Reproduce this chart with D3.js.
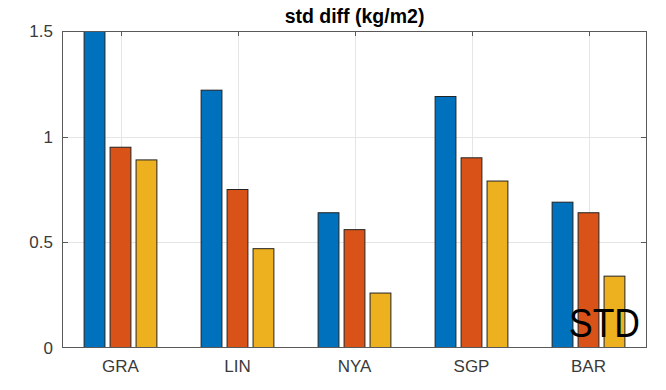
<!DOCTYPE html>
<head>
	<meta charset="utf-8">
	<script src="https://d3js.org/d3.v7.min.js"></script>
	<style>
		body { margin: 0; background: #fff; }
		text { font-family: "Liberation Sans", Arial, sans-serif; }
	</style>
</head>
<body>
	<script type="text/javascript">

		var w = 666;
		var h = 390;

		var stations = ["GRA", "LIN", "NYA", "SGP", "BAR"];
		var series1 = [1.50, 1.22, 0.64, 1.19, 0.69];
		var series2 = [0.95, 0.75, 0.56, 0.90, 0.64];
		var series3 = [0.89, 0.47, 0.26, 0.79, 0.34];
		var yTicks = [0, 0.5, 1, 1.5];
		var colors = ["#0072BD", "#D95319", "#EDB120"];

		var pLeft = 62, pRight = 647, pTop = 31, pBottom = 348;

		var svg = d3.select("body")
				.append("svg")
				.attr("width", w)
				.attr("height", h);

		var xScale = d3.scaleLinear()
					.domain([0.5, stations.length + 0.5])
					.range([pLeft, pRight]);

		var yScale = d3.scaleLinear()
					.domain([0, 1.5])
					.range([pBottom, pTop]);

		svg.append("clipPath")
			.attr("id", "plotclip")
			.append("rect")
			.attr("x", pLeft)
			.attr("y", pTop)
			.attr("width", pRight - pLeft)
			.attr("height", pBottom - pTop);

		// grid
		var grid = svg.append("g").attr("stroke", "#e5e5e5").attr("stroke-width", 1);
		grid.selectAll(".gx")
			.data(stations)
			.enter()
			.append("line")
			.attr("x1", function(d, i){ return Math.round(xScale(i + 1)) + 0.5; })
			.attr("x2", function(d, i){ return Math.round(xScale(i + 1)) + 0.5; })
			.attr("y1", pTop)
			.attr("y2", pBottom);
		grid.selectAll(".gy")
			.data(yTicks.slice(1, 3))
			.enter()
			.append("line")
			.attr("x1", pLeft)
			.attr("x2", pRight)
			.attr("y1", function(d){ return Math.round(yScale(d)) + 0.5; })
			.attr("y2", function(d){ return Math.round(yScale(d)) + 0.5; });

		// bars
		var allSeries = [series1, series2, series3];
		var barW = 0.178;
		var offsets = [-0.222, 0, 0.222];

		var bars = svg.append("g").attr("clip-path", "url(#plotclip)");
		allSeries.forEach(function(vals, s){
			bars.selectAll(".s" + s)
				.data(vals)
				.enter()
				.append("rect")
				.attr("x", function(d, i){ return xScale(i + 1 + offsets[s] - barW / 2); })
				.attr("y", function(d){ return yScale(d); })
				.attr("width", xScale(1 + barW) - xScale(1))
				.attr("height", function(d){ return pBottom - yScale(d); })
				.attr("fill", colors[s])
				.attr("stroke", "#222")
				.attr("stroke-width", 1);
		});

		// box and ticks
		var axis = svg.append("g").attr("stroke", "#595959").attr("stroke-width", 1).attr("fill", "none");
		axis.append("rect")
			.attr("x", pLeft + 0.5)
			.attr("y", pTop + 0.5)
			.attr("width", pRight - pLeft - 1)
			.attr("height", pBottom - pTop - 1);
		axis.selectAll(".tt")
			.data(stations)
			.enter()
			.append("line")
			.attr("x1", function(d, i){ return Math.round(xScale(i + 1)) + 0.5; })
			.attr("x2", function(d, i){ return Math.round(xScale(i + 1)) + 0.5; })
			.attr("y1", pTop)
			.attr("y2", pTop + 5);
		axis.selectAll(".tr")
			.data(yTicks.slice(1, 3))
			.enter()
			.append("line")
			.attr("x1", pRight - 6)
			.attr("x2", pRight)
			.attr("y1", function(d){ return Math.round(yScale(d)) + 0.5; })
			.attr("y2", function(d){ return Math.round(yScale(d)) + 0.5; });
		axis.selectAll(".tl")
			.data(yTicks.slice(1, 3))
			.enter()
			.append("line")
			.attr("x1", pLeft)
			.attr("x2", pLeft + 6)
			.attr("y1", function(d){ return Math.round(yScale(d)) + 0.5; })
			.attr("y2", function(d){ return Math.round(yScale(d)) + 0.5; });

		// labels
		svg.selectAll(".ylab")
			.data(yTicks)
			.enter()
			.append("text")
			.attr("x", pLeft - 9)
			.attr("y", function(d){ return yScale(d); })
			.attr("dy", "0.36em")
			.attr("text-anchor", "end")
			.attr("font-size", 17)
			.attr("fill", "#3a3a3a")
			.text(function(d){ return d; });

		svg.selectAll(".xlab")
			.data(stations)
			.enter()
			.append("text")
			.attr("x", function(d, i){ return xScale(i + 1); })
			.attr("y", 372)
			.attr("text-anchor", "middle")
			.attr("font-size", 17)
			.attr("fill", "#3a3a3a")
			.text(function(d){ return d; });

		svg.append("text")
			.attr("x", (pLeft + pRight) / 2)
			.attr("y", 23)
			.attr("text-anchor", "middle")
			.attr("font-size", 19.5)
			.attr("font-weight", "bold")
			.attr("fill", "#000")
			.text("std diff (kg/m2)");

		svg.append("text")
			.attr("x", 569)
			.attr("y", 337)
			.attr("font-family", "'Open Sans', sans-serif")
			.attr("font-size", 41)
			.attr("textLength", 71)
			.attr("lengthAdjust", "spacingAndGlyphs")
			.attr("fill", "#000")
			.text("STD");

	</script>
</body>
